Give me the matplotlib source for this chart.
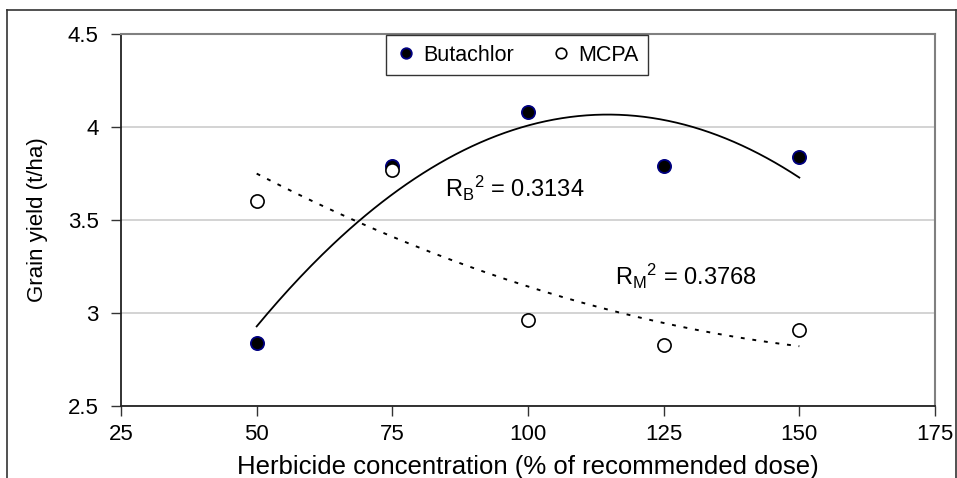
import numpy as np
import matplotlib
matplotlib.use("Agg")
import matplotlib.pyplot as plt
from matplotlib.lines import Line2D

plt.rcParams['font.family'] = ['Liberation Sans', 'DejaVu Sans']
plt.rcParams['mathtext.fontset'] = 'custom'
plt.rcParams['mathtext.rm'] = 'Liberation Sans'
plt.rcParams['mathtext.it'] = 'Liberation Sans'

# herbicide concentration (% of recommended dose)
dose = [50, 75, 100, 125, 150]
butachlor = [2.84, 3.79, 4.08, 3.79, 3.84]
mcpa = [3.60, 3.77, 2.96, 2.83, 2.91]

r2_butachlor = "0.3134"
r2_mcpa = "0.3768"

x_ticks = [25, 50, 75, 100, 125, 150, 175]
y_ticks = [2.5, 3, 3.5, 4, 4.5]

fig = plt.figure(figsize=(9.57, 4.78), dpi=100)
ax = fig.add_axes([121 / 957, 72 / 478, 814 / 957, 372 / 478])

# outer frame of the chart object
fig.add_artist(Line2D([7 / 957, 7 / 957], [-0.01, 1 - 10 / 478], color='#333333', lw=1.2))
fig.add_artist(Line2D([7 / 957, 955.5 / 957], [1 - 10 / 478, 1 - 10 / 478], color='#333333', lw=1.2))
fig.add_artist(Line2D([955.5 / 957, 955.5 / 957], [-0.01, 1 - 10 / 478], color='#333333', lw=1.2))

# quadratic trend lines
xs = np.linspace(min(dose), max(dose), 200)
pb = np.poly1d(np.polyfit(dose, butachlor, 2))
pm = np.poly1d(np.polyfit(dose, mcpa, 2))
ax.plot(xs, pb(xs), color='black', lw=1.3, zorder=3)
ax.plot(xs, pm(xs), color='black', lw=1.4, linestyle=(0, (2, 4)), zorder=3)

ax.plot(dose, butachlor, 'o', ms=9.5, mfc='black', mec='#000080', mew=1.3,
        label='Butachlor', zorder=4)
ax.plot(dose, mcpa, 'o', ms=9.5, mfc='white', mec='black', mew=1.2,
        label='MCPA', zorder=4)

ax.text(84.7, 3.624, r'R$_\mathregular{B}$$^\mathregular{2}$ = ' + r2_butachlor,
        fontsize=17, va='baseline', ha='left')
ax.text(116.0, 3.151, r'R$_\mathregular{M}$$^\mathregular{2}$ = ' + r2_mcpa,
        fontsize=17, va='baseline', ha='left')

ax.set_xlim(25, 175)
ax.set_ylim(2.5, 4.5)
ax.set_xticks(x_ticks)
ax.set_yticks(y_ticks)
ax.set_yticklabels(['2.5', '3', '3.5', '4', '4.5'])
ax.tick_params(axis='both', direction='out', length=7, width=1, labelsize=16, color='#333333')
ax.tick_params(axis='x', pad=6)
ax.tick_params(axis='y', pad=9)
ax.grid(axis='y', color='#cccccc', lw=1.2)
ax.set_axisbelow(True)

for side in ['top', 'right']:
    ax.spines[side].set_color('#808080')
    ax.spines[side].set_linewidth(1.5)
for side in ['left', 'bottom']:
    ax.spines[side].set_color('#222222')
    ax.spines[side].set_linewidth(1.3)

ax.set_xlabel('Herbicide concentration (% of recommended dose)', fontsize=18.5)
ax.xaxis.label.set_va('baseline')
ax.xaxis.set_label_coords(0.5, -0.183)
ax.set_ylabel('Grain yield (t/ha)', fontsize=16)
ax.yaxis.set_label_coords(-0.09, 0.5)

leg = ax.legend(loc='upper left', bbox_to_anchor=(265 / 814, 1 - 43 / 372, 262 / 814, 42 / 372),
                mode='expand', ncol=2, fontsize=15.5, frameon=True, fancybox=False,
                borderaxespad=0, handletextpad=0.3, columnspacing=1.0,
                handlelength=1.0, borderpad=0.45, markerscale=0.8)
leg.get_frame().set_edgecolor('black')
leg.get_frame().set_linewidth(1.0)
leg.set_zorder(5)

fig.savefig('out.png', dpi=100)
